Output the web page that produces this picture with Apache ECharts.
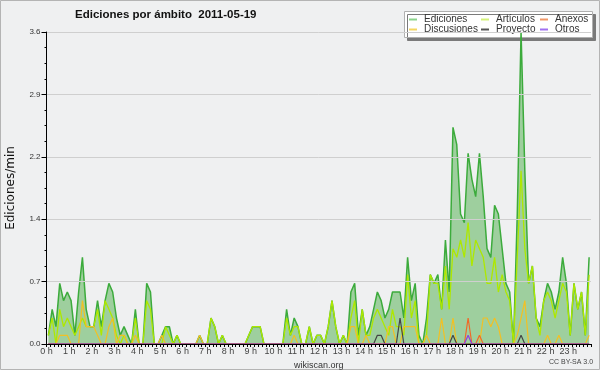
<!DOCTYPE html>
<html>
<head>
<meta charset="utf-8">
<script src="https://cdn.jsdelivr.net/npm/echarts@6/dist/echarts.min.js"></script>
<style>
html,body{margin:0;padding:0;background:#eff0f1;}
#chart{width:600px;height:370px;}
</style>
</head>
<body>
<div id="chart"></div>
<script>
// 10-minute slots of 2011-05-19, values in edits per minute
const slotCount = 144;
const hourLabels = [];
for (let h = 0; h < 24; h++) hourLabels.push(h + ' h');

const ediciones = [
0.1,0.4,0.2,0.7,0.5,0.6,0.5,0.1,0.6,1.0,
0.4,0.2,0.2,0.5,0.2,0.5,0.7,0.6,0.3,0.1,
0.2,0.1,0,0.4,0,0,0.7,0.6,0,0,
0.1,0.2,0.2,0,0.1,0,0,0,0,0,
0.1,0,0,0.3,0.2,0,0.1,0,0,0,
0,0,0,0.1,0.2,0.2,0.2,0,0,0,
0,0,0,0.4,0.1,0.3,0.2,0,0,0.2,
0,0.1,0.1,0,0.2,0.5,0.2,0,0.1,0,
0.6,0.7,0.1,0.4,0.1,0.2,0.4,0.6,0.5,0.3,
0.4,0.6,0.6,0.6,0.3,1.0,0.5,0.7,0.1,0,
0.3,0.8,0.7,0.8,0.4,1.2,0.6,2.5,2.3,1.5,
1.4,2.2,1.9,1.7,2.2,1.7,1.1,1.0,1.6,1.5,
1.1,0.7,0.6,0,1.5,3.6,2.0,0.7,0.9,0.3,
0.2,0.5,0.7,0.6,0.4,0.6,1.0,0.7,0.1,0.7,
0.4,0.6,0.1,1.0
];
const articulos = [
0.1,0.3,0,0.4,0.2,0.3,0.2,0.1,0.2,0.3,
0.2,0.2,0.2,0.4,0.1,0.5,0.4,0.3,0.1,0,
0.1,0,0,0.3,0,0,0.5,0.4,0,0,
0,0.2,0.1,0,0.1,0,0,0,0,0,
0,0,0,0.3,0.2,0,0.1,0,0,0,
0,0,0,0.1,0.2,0.2,0.2,0,0,0,
0,0,0,0.3,0.1,0.2,0.2,0,0,0.2,
0,0.1,0.1,0,0.2,0.5,0.2,0,0.1,0,
0.3,0.5,0,0.4,0.1,0.1,0.3,0.4,0.3,0.2,
0.1,0.4,0.2,0.2,0.1,0.8,0.3,0.5,0,0,
0.1,0.8,0.7,0.7,0.4,0.9,0.4,1.1,1.0,1.2,
1.0,1.4,0.9,1.2,1.1,1.0,0.7,0.7,1.0,0.6,
0.8,0.6,0.5,0,1.0,2.0,1.1,0.7,0.9,0.3,
0.1,0.5,0.6,0.5,0.3,0.5,0.7,0.6,0.1,0.7,
0.4,0.6,0.1,0.8
];
const discusiones = [
0,0,0,0.1,0.1,0.1,0,0,0,0.5,
0.2,0.2,0.2,0.1,0,0,0.2,0.3,0,0.1,
0.1,0,0,0.1,0,0,0,0,0,0,
0.1,0,0,0,0,0,0,0,0,0,
0.1,0,0,0,0,0,0,0,0,0,
0,0,0,0,0,0,0,0,0,0,
0,0,0,0,0,0.1,0,0,0,0,
0,0,0,0,0,0,0,0,0,0,
0.2,0.2,0,0,0.1,0,0,0,0,0,
0.2,0.2,0,0,0.2,0.2,0.2,0.2,0,0,
0.1,0,0,0,0.3,0,0,0.3,0,0,
0,0,0,0,0,0.3,0.3,0.2,0.3,0.2,
0,0,0,0,0.1,0.3,0.5,0,0,0,
0,0,0.1,0,0,0.1,0,0,0,0,
0,0,0,0.1
];
const proyecto = [
0,0,0,0,0,0,0,0,0,0, 0,0,0,0,0,0,0,0,0,0,
0,0,0,0,0,0,0,0,0,0, 0,0,0,0,0,0,0,0,0,0,
0,0,0,0,0,0,0,0,0,0, 0,0,0,0,0,0,0,0,0,0,
0,0,0,0,0,0,0,0,0,0, 0,0,0,0,0,0,0,0,0,0,
0,0,0,0,0,0,0,0.1,0.1,0, 0,0,0,0.3,0,0,0,0,0,0,
0,0,0,0,0,0,0,0.1,0,0, 0,0,0,0,0,0,0,0,0,0,
0,0,0,0,0,0.1,0,0,0,0, 0,0,0,0,0,0,0,0,0,0,
0,0,0,0,0,0,0,0,0,0, 0,0,0,0
];
const anexos = [
0,0,0,0,0,0,0,0,0,0, 0,0,0,0,0,0,0,0,0,0,
0,0,0,0,0,0,0,0,0,0, 0,0,0,0,0,0,0,0,0,0,
0,0,0,0,0,0,0,0,0,0, 0,0,0,0,0,0,0,0,0,0,
0,0,0,0,0,0,0,0,0,0, 0,0,0,0,0,0,0,0,0,0,
0,0,0,0,0,0,0,0,0,0, 0,0,0,0,0,0,0,0,0,0,
0,0,0,0,0,0,0,0,0,0, 0,0.3,0,0,0.1,0,0,0,0,0,
0,0,0,0,0,0,0,0,0,0, 0,0,0,0,0,0,0,0,0,0,
0,0,0,0,0,0,0,0,0,0, 0,0,0,0
];
const otros = [
0,0,0,0,0,0,0,0,0,0, 0,0,0,0,0,0,0,0,0,0,
0,0,0,0,0,0,0,0,0,0, 0,0,0,0,0,0,0,0,0,0,
0,0,0,0,0,0,0,0,0,0, 0,0,0,0,0,0,0,0,0,0,
0,0,0,0,0,0,0,0,0,0, 0,0,0,0,0,0,0,0,0,0,
0,0,0,0,0,0,0,0,0,0, 0,0,0,0,0,0,0,0,0,0,
0,0,0,0,0,0,0,0,0,0, 0,0.1,0,0,0,0,0,0,0,0,
0,0,0,0,0,0,0,0,0,0, 0,0,0,0,0,0,0,0,0,0,
0,0,0,0,0,0,0,0,0,0, 0,0,0,0
];

// minute of day at the middle of each 10-minute slot
const slotMid = [];
for (let i = 0; i < slotCount; i++) slotMid.push(i * 10 + 5);
const pairs = arr => arr.map((v, i) => [slotMid[i], v]);

const FONT = 'Liberation Sans, Arial, sans-serif';
const chart = echarts.init(document.getElementById('chart'), null, {renderer: 'canvas'});

const legendText = {fontFamily: FONT, fontSize: 10, color: '#333', lineHeight: 10, padding: [0, 0, 0, 2]};
const legendBase = {orient: 'vertical', top: 14.5, itemGap: 0, padding: 0, itemWidth: 8, itemHeight: 2, icon: 'rect', textStyle: legendText, selectedMode: false};

function lineSeries(name, data, color, width) {
  return {name, type: 'line', data: pairs(data), symbol: 'none', silent: true,
    lineStyle: {color, width}, itemStyle: {color}, animation: false};
}

chart.setOption({
  backgroundColor: '#eff0f1',
  animation: false,
  title: {
    text: 'Ediciones por ámbito  2011-05-19',
    left: 75, top: 9, padding: 0,
    textStyle: {fontFamily: FONT, fontSize: 11.5, fontWeight: 'bold', color: '#111'}
  },
  grid: {left: 46.5, right: 9, top: 32, bottom: 26, outerBoundsMode: 'none', containLabel: false},
  legend: [
    Object.assign({left: 409, data: [
      {name: 'Ediciones', itemStyle: {color: '#8cd48c'}},
      {name: 'Discusiones', itemStyle: {color: '#f4d660'}}]}, legendBase),
    Object.assign({left: 481, data: [
      {name: 'Artículos', itemStyle: {color: '#d4f27a'}},
      {name: 'Proyecto', itemStyle: {color: '#555555'}}]}, legendBase),
    Object.assign({left: 540, data: [
      {name: 'Anexos', itemStyle: {color: '#f09868'}},
      {name: 'Otros', itemStyle: {color: '#a070f0'}}]}, legendBase)
  ],
  xAxis: {
    type: 'value', min: 0, max: 1440, interval: 60, z: 5,
    name: 'wikiscan.org', nameLocation: 'middle', nameGap: 10,
    nameTextStyle: {fontFamily: FONT, fontSize: 9, color: '#333'},
    axisLine: {lineStyle: {color: '#000', width: 1}},
    axisTick: {show: true, length: 3, lineStyle: {color: '#000'}},
    minorTick: {show: true, splitNumber: 6, length: 3, lineStyle: {color: '#000'}},
    splitLine: {show: false},
    axisLabel: {
      fontFamily: FONT, fontSize: 9, color: '#444', margin: 3, showMaxLabel: false,
      formatter: v => hourLabels[Math.round(v / 60)] || ''
    }
  },
  yAxis: {
    type: 'value', min: 0, max: 3.6, interval: 0.72, z: 5,
    name: 'Ediciones/min', nameLocation: 'middle', nameGap: 30,
    nameTextStyle: {fontFamily: 'DejaVu Sans', fontSize: 12, color: '#111'},
    axisLine: {show: true, lineStyle: {color: '#000', width: 1}},
    axisTick: {show: true, length: 5, lineStyle: {color: '#000'}},
    minorTick: {show: true, splitNumber: 4, length: 2, lineStyle: {color: '#000'}},
    splitLine: {show: true, lineStyle: {color: '#cfcfcf', width: 1}},
    axisLabel: {fontFamily: FONT, fontSize: 8, color: '#333', margin: 6, formatter: v => v.toFixed(1)}
  },
  graphic: [
    {type: 'rect', z: -10, silent: true, shape: {x: 0.5, y: 0.5, width: 599, height: 369},
      style: {fill: 'none', stroke: '#b4b4b4', lineWidth: 1}},
    {type: 'rect', z: 1, silent: true, shape: {x: 404.5, y: 11.5, width: 188, height: 26},
      style: {fill: '#ffffff', stroke: '#b0b0b0', lineWidth: 1,
        shadowColor: '#7a7a7a', shadowOffsetX: 3, shadowOffsetY: 3, shadowBlur: 0}},
    {type: 'text', silent: true, left: 549, top: 359,
      style: {text: 'CC BY-SA 3.0', fontFamily: FONT, fontSize: 7, fill: '#444'}}
  ],
  series: [
    Object.assign(lineSeries('Ediciones', ediciones, '#3cab3c', 1.5),
      {areaStyle: {color: '#9ecf9e', opacity: 1}}),
    lineSeries('Artículos', articulos, '#aee800', 1.3),
    lineSeries('Discusiones', discusiones, '#f2c024', 1.2),
    lineSeries('Proyecto', proyecto, '#444444', 1.2),
    lineSeries('Anexos', anexos, '#f06a28', 1.2),
    lineSeries('Otros', otros, '#9040e0', 1.2)
  ]
});
</script>
</body>
</html>
